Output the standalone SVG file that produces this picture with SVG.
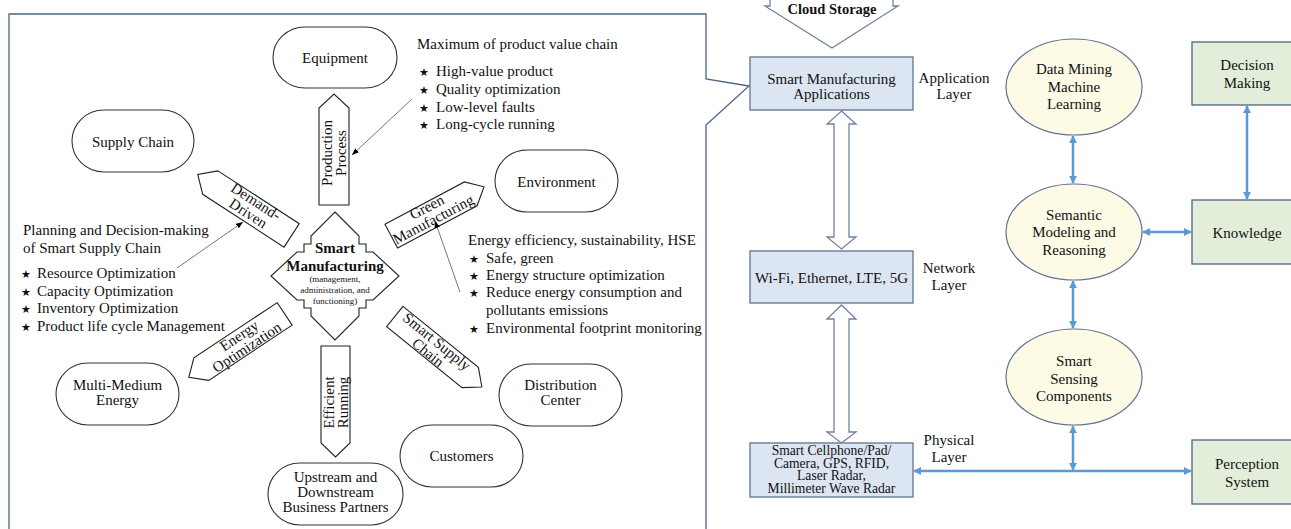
<svg xmlns="http://www.w3.org/2000/svg" width="1291" height="529" viewBox="0 0 1291 529">
<style>
.st{fill:#fff;stroke:#333;stroke-width:1.1}
.blk{fill:#fff;stroke:#222;stroke-width:1.1}
.t{font-family:"Liberation Serif","Times New Roman",serif;font-size:15px;fill:#111}
.c{text-anchor:middle}
.b{font-weight:bold}
.sm{font-size:9px}
.ph{font-size:13.6px}
.star{font-family:"DejaVu Sans",sans-serif;font-size:11px;fill:#111}
.thin{stroke:#777;stroke-width:1;fill:none;marker-end:url(#ah)}
.blue{stroke:#5b9bd5;stroke-width:2.5;fill:none;marker-start:url(#bh);marker-end:url(#bh)}
.box{fill:#dce6f2;stroke:#5f7391;stroke-width:1.3}
.ell{fill:#fdfae6;stroke:#5f7391;stroke-width:1.2}
.grn{fill:#e2eed9;stroke:#4f6380;stroke-width:1.3}
.hol{fill:#fff;stroke:#6f82a0;stroke-width:1.3}
.frame{fill:none;stroke:#4f6482;stroke-width:1.3}
</style>
<defs>
<marker id="ah" viewBox="0 0 10 10" refX="10" refY="5" markerWidth="7" markerHeight="7" orient="auto" markerUnits="userSpaceOnUse"><path d="M0,1 L10,5 L0,9 z" fill="#000"/></marker>
<marker id="bh" viewBox="0 0 10 10" refX="9" refY="5" markerWidth="8" markerHeight="8" orient="auto-start-reverse" markerUnits="userSpaceOnUse"><path d="M0,0 L10,5 L0,10 z" fill="#5b9bd5"/></marker>
</defs>
<rect width="1291" height="529" fill="#fff"/>

<path id="callout-frame" class="frame" d="M9,530 V14 H706 V79 L749,86 L706,125 V530"/>

<g id="equipment"><rect class="st" x="273" y="27" width="124" height="61" rx="32" ry="30.5"/><text class="t c" x="335" y="63">Equipment</text></g>
<g id="supply-chain"><rect class="st" x="72" y="110" width="122" height="62" rx="32" ry="31"/><text class="t c" x="133" y="146.5">Supply Chain</text></g>
<g id="environment"><rect class="st" x="495" y="150" width="123" height="62" rx="32" ry="31"/><text class="t c" x="556.5" y="187">Environment</text></g>
<g id="multi-medium"><rect class="st" x="56" y="363" width="123" height="62" rx="32" ry="31"/><text class="t c" x="117.5" y="390">Multi-Medium</text><text class="t c" x="117.5" y="405">Energy</text></g>
<g id="upstream"><rect class="st" x="268" y="463" width="135" height="62" rx="32" ry="31"/><text class="t c" x="335.5" y="482">Upstream and</text><text class="t c" x="335.5" y="497">Downstream</text><text class="t c" x="335.5" y="512">Business Partners</text></g>
<g id="customers"><rect class="st" x="400" y="425" width="123" height="62" rx="32" ry="31"/><text class="t c" x="461.5" y="461">Customers</text></g>
<g id="distribution"><rect class="st" x="499" y="364" width="123" height="62" rx="32" ry="31"/><text class="t c" x="560.5" y="390">Distribution</text><text class="t c" x="560.5" y="405">Center</text></g>

<g id="smart-manufacturing">
<path class="blk" d="M335,212 L359,236 V244 H366 V252 H373 L399,276 L373,300 H366 V308 H359 V316 L335,340 L311,316 V308 H304 V300 H297 L271,276 L297,252 H304 V244 H311 V236 Z"/>
<text class="t c b" x="335" y="253">Smart</text>
<text class="t c b" x="335" y="271">Manufacturing</text>
<text class="t c sm" x="335" y="282">(management,</text>
<text class="t c sm" x="335" y="293">administration, and</text>
<text class="t c sm" x="335" y="304">functioning)</text>
</g>

<g id="production-process" transform="translate(334,156.5) rotate(-90)">
<path class="blk" d="M-48.5,-15 H48.5 L62.5,0 L48.5,15 H-48.5 Z"/>
<text class="t c"><tspan x="3.5" y="-2">Production</tspan><tspan x="3.5" y="12">Process</tspan></text>
</g>
<g id="efficient-running" transform="translate(335.5,394.5) rotate(-90)">
<path class="blk" d="M48.5,-14.5 H-48.5 L-62.5,0 L-48.5,14.5 H48.5 Z"/>
<text class="t c"><tspan x="-8" y="-2">Efficient</tspan><tspan x="-8" y="12">Running</tspan></text>
</g>
<g id="demand-driven" transform="translate(251,209) rotate(33)">
<path class="blk" d="M-48.5,-14 H48.5 V14 H-48.5 L-63.5,0 Z"/>
<text class="t c"><tspan x="0" y="-4">Demand-</tspan><tspan x="0" y="10">Driven</tspan></text>
</g>
<g id="green-manufacturing" transform="translate(431,215) rotate(-28)">
<path class="blk" d="M-45,-13.5 H45 L60,0 L45,13.5 H-45 Z"/>
<text class="t c"><tspan x="0" y="-4">Green</tspan><tspan x="0" y="10">Manufacturing</tspan></text>
</g>
<g id="smart-supply-chain" transform="translate(432.5,347) rotate(39)">
<path class="blk" d="M-48.5,-13 H48.5 L63.5,0 L48.5,13 H-48.5 Z"/>
<text class="t c"><tspan x="0" y="-2">Smart Supply</tspan><tspan x="0" y="12">Chain</tspan></text>
</g>
<g id="energy-optimization" transform="translate(243,341.5) rotate(-33.5)">
<path class="blk" d="M50,-13.5 H-50 L-65,0 L-50,13.5 H50 Z"/>
<text class="t c"><tspan x="0" y="-2">Energy</tspan><tspan x="0" y="12">Optimization</tspan></text>
</g>

<g id="note-value-chain">
<text class="t" x="417" y="49">Maximum of product value chain</text>
<text class="star" x="419" y="76">★</text><text class="t" x="436" y="76">High-value product</text>
<text class="star" x="419" y="94">★</text><text class="t" x="436" y="94">Quality optimization</text>
<text class="star" x="419" y="112">★</text><text class="t" x="436" y="112">Low-level faults</text>
<text class="star" x="419" y="129">★</text><text class="t" x="436" y="129">Long-cycle running</text>
</g>
<g id="note-supply-chain">
<text class="t" x="23" y="235">Planning and Decision-making</text>
<text class="t" x="23" y="253">of Smart Supply Chain</text>
<text class="star" x="21" y="278">★</text><text class="t" x="37" y="278">Resource Optimization</text>
<text class="star" x="21" y="296">★</text><text class="t" x="37" y="296">Capacity Optimization</text>
<text class="star" x="21" y="313">★</text><text class="t" x="37" y="313">Inventory Optimization</text>
<text class="star" x="21" y="331">★</text><text class="t" x="37" y="331">Product life cycle Management</text>
</g>
<g id="note-energy">
<text class="t" x="468" y="245">Energy efficiency, sustainability, HSE</text>
<text class="star" x="469" y="263">★</text><text class="t" x="486" y="263">Safe, green</text>
<text class="star" x="469" y="280">★</text><text class="t" x="486" y="280">Energy structure optimization</text>
<text class="star" x="469" y="297">★</text><text class="t" x="486" y="297">Reduce energy consumption and</text>
<text class="t" x="486" y="315">pollutants emissions</text>
<text class="star" x="469" y="333">★</text><text class="t" x="486" y="333">Environmental footprint monitoring</text>
</g>

<g id="cloud-storage">
<path class="hol" d="M770,-2 V6 H765 L832,48 L898,6 H893 V-2"/>
<text class="t c b" x="832" y="14" style="font-size:14.5px">Cloud Storage</text>
</g>
<g id="app-box"><rect class="box" x="750" y="57" width="163" height="53"/><text class="t c" x="831.5" y="84">Smart Manufacturing</text><text class="t c" x="831.5" y="99">Applications</text></g>
<g id="app-layer"><text class="t c" x="954" y="83">Application</text><text class="t c" x="954" y="99">Layer</text></g>
<g id="net-box"><rect class="box" x="750" y="251" width="163" height="52"/><text class="t c" x="831.5" y="283">Wi-Fi, Ethernet, LTE, 5G</text></g>
<g id="net-layer"><text class="t c" x="949" y="273">Network</text><text class="t c" x="949" y="290">Layer</text></g>
<g id="phys-box"><rect class="box" x="750" y="443" width="163" height="54"/>
<text class="t c ph" x="831.5" y="455">Smart Cellphone/Pad/</text>
<text class="t c ph" x="831.5" y="467.5">Camera, GPS, RFID,</text>
<text class="t c ph" x="831.5" y="480">Laser Radar,</text>
<text class="t c ph" x="831.5" y="492.5">Millimeter Wave Radar</text></g>
<g id="phys-layer"><text class="t c" x="949" y="445">Physical</text><text class="t c" x="949" y="462">Layer</text></g>

<g id="data-mining"><ellipse class="ell" cx="1074" cy="87" rx="68" ry="48"/><text class="t c" x="1074" y="74">Data Mining</text><text class="t c" x="1074" y="92">Machine</text><text class="t c" x="1074" y="109">Learning</text></g>
<g id="semantic"><ellipse class="ell" cx="1074" cy="232" rx="68" ry="48"/><text class="t c" x="1074" y="220">Semantic</text><text class="t c" x="1074" y="237">Modeling and</text><text class="t c" x="1074" y="255">Reasoning</text></g>
<g id="sensing"><ellipse class="ell" cx="1074" cy="377" rx="68" ry="48"/><text class="t c" x="1074" y="366">Smart</text><text class="t c" x="1074" y="384">Sensing</text><text class="t c" x="1074" y="401">Components</text></g>
<g id="decision"><rect class="grn" x="1192" y="42" width="112" height="63"/><text class="t c" x="1247" y="70">Decision</text><text class="t c" x="1247" y="88">Making</text></g>
<g id="knowledge"><rect class="grn" x="1192" y="200" width="112" height="64"/><text class="t c" x="1247" y="238">Knowledge</text></g>
<g id="perception"><rect class="grn" x="1192" y="440" width="112" height="64"/><text class="t c" x="1247" y="469">Perception</text><text class="t c" x="1247" y="487">System</text></g>

<g id="connectors">
<line class="thin" x1="412" y1="99" x2="352" y2="155"/>
<line class="thin" x1="177" y1="268" x2="243" y2="222"/>
<line class="thin" x1="460" y1="292" x2="435" y2="221"/>
<path class="hol" d="M841.5,111 L856,124 H849 V237 H856 L841.5,249 L827,237 H834 V124 H827 Z"/>
<path class="hol" d="M841.5,305 L856,319 H849 V432 H856 L841.5,443 L827,432 H834 V319 H827 Z"/>
<line class="blue" x1="1073" y1="136" x2="1073" y2="183"/>
<line class="blue" x1="1073" y1="281" x2="1073" y2="328"/>
<line class="blue" x1="1073" y1="426" x2="1073" y2="470"/>
<line class="blue" x1="1143" y1="232" x2="1191" y2="232"/>
<line class="blue" x1="1247" y1="106" x2="1247" y2="199"/>
<line class="blue" x1="914" y1="471" x2="1191" y2="471"/>
</g>
</svg>
